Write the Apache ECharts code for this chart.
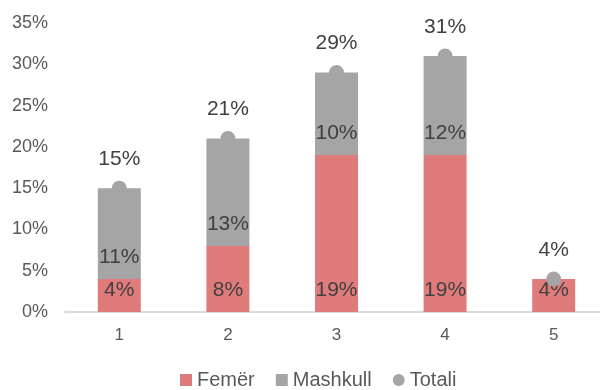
<!DOCTYPE html>
<html>
<head>
<meta charset="utf-8">
<script src="https://cdn.jsdelivr.net/npm/echarts@6/dist/echarts.min.js"></script>
<style>
  html, body { margin: 0; padding: 0; background: #fff; }
  #chart { width: 600px; height: 390px; }
</style>
</head>
<body>
<div id="chart"></div>
<script>
// Share by group (percent)
const categories = ['1', '2', '3', '4', '5'];
const femer = [4, 8, 19, 19, 4];
const mashkull = [11, 13, 10, 12, 0];
const totali = [15, 21, 29, 31, 4];
const yTicks = [0, 5, 10, 15, 20, 25, 30, 35];

const FONT = '"Liberation Sans", Arial, sans-serif';
const pct = p => (p.value ? p.value + '%' : '');

const chart = echarts.init(document.getElementById('chart'), null, { renderer: 'canvas' });
chart.setOption({
  animation: false,
  textStyle: { fontFamily: FONT },
  grid: { left: 65, top: 23, width: 543, height: 289, outerBoundsMode: 'none' },
  legend: {
    top: 368,
    left: 175,
    padding: [2, 5],
    itemWidth: 12,
    itemHeight: 12,
    itemGap: 21,
    textStyle: { fontSize: 20, color: '#595959', fontFamily: FONT },
    data: [
      { name: 'Femër', icon: 'rect' },
      { name: 'Mashkull', icon: 'rect' },
      { name: 'Totali', icon: 'circle' }
    ]
  },
  xAxis: {
    type: 'category',
    data: categories,
    axisLine: { lineStyle: { color: '#D9D9D9', width: 2 } },
    axisTick: { show: false },
    axisLabel: { fontSize: 17, color: '#595959', margin: 15, fontFamily: FONT }
  },
  yAxis: {
    type: 'value',
    min: yTicks[0],
    max: yTicks[yTicks.length - 1],
    interval: 5,
    splitLine: { show: false },
    axisLine: { show: false },
    axisTick: { show: false },
    axisLabel: { fontSize: 18, color: '#595959', margin: 17, formatter: '{value}%', fontFamily: FONT }
  },
  series: [
    {
      name: 'Femër',
      type: 'bar',
      stack: 'total',
      barWidth: 43,
      data: femer,
      itemStyle: { color: '#E07B7B' },
      label: {
        show: true, position: 'insideBottom', distance: 11,
        fontSize: 21, color: '#404040', formatter: pct, fontFamily: FONT
      }
    },
    {
      name: 'Mashkull',
      type: 'bar',
      stack: 'total',
      barWidth: 43,
      data: mashkull,
      itemStyle: { color: '#A5A5A5' },
      label: {
        show: true, position: 'insideBottom', distance: 11,
        fontSize: 21, color: '#404040', formatter: pct, fontFamily: FONT
      }
    },
    {
      name: 'Totali',
      type: 'line',
      data: totali,
      symbol: 'circle',
      symbolSize: 15,
      lineStyle: { width: 0, opacity: 0 },
      itemStyle: { color: '#A5A5A5' },
      z: 5,
      label: {
        show: true, position: 'top', distance: 11,
        fontSize: 21, color: '#404040', formatter: pct, fontFamily: FONT
      }
    }
  ]
});
</script>
</body>
</html>
